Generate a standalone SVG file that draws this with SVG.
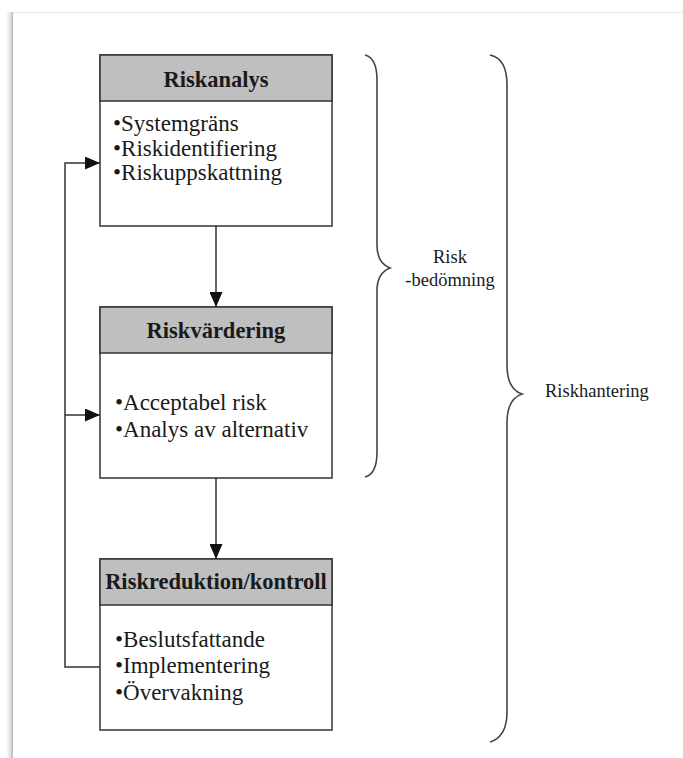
<svg xmlns="http://www.w3.org/2000/svg" width="683" height="758" viewBox="0 0 683 758">
  <style>
    .box { fill: #ffffff; stroke: #333333; stroke-width: 1.5; }
    .head { fill: #bfbfbf; stroke: #333333; stroke-width: 1.5; }
    .title { font-family: "Liberation Serif", "Times New Roman", serif; font-weight: bold; font-size: 22.5px; fill: #1a1a1a; text-anchor: middle; }
    .item { font-family: "Liberation Serif", "Times New Roman", serif; font-size: 23px; fill: #1a1a1a; }
    .label { font-family: "Liberation Serif", "Times New Roman", serif; font-size: 18.5px; fill: #1a1a1a; }
    .wire { fill: none; stroke: #333333; stroke-width: 1.5; }
    .brace { fill: none; stroke: #444444; stroke-width: 1.6; }
  </style>
  <defs>
    <marker id="arrow" viewBox="0 0 15 13" refX="15" refY="6.5" markerWidth="15" markerHeight="13" markerUnits="userSpaceOnUse" orient="auto">
      <path d="M0,0 L15,6.5 L0,13 Z" fill="#111111"/>
    </marker>
    <linearGradient id="edge" x1="0" y1="0" x2="1" y2="0">
      <stop offset="0" stop-color="#ffffff"/>
      <stop offset="0.6" stop-color="#e2e2e2"/>
      <stop offset="1" stop-color="#b8b8b8"/>
    </linearGradient>
  </defs>

  <!-- page -->
  <rect x="0" y="0" width="683" height="758" fill="#ffffff"/>
  <rect x="6" y="12" width="7" height="746" fill="url(#edge)"/>
  <line x1="13" y1="12.5" x2="683" y2="12.5" stroke="#ececec" stroke-width="1.5"/>

  <!-- connectors -->
  <g id="connectors">
    <line class="wire" x1="216" y1="226" x2="216" y2="307" marker-end="url(#arrow)"/>
    <line class="wire" x1="216" y1="478" x2="216" y2="559" marker-end="url(#arrow)"/>
    <path class="wire" d="M100,667 H65 V163 H100" marker-end="url(#arrow)"/>
    <line class="wire" x1="65" y1="415" x2="100" y2="415" marker-end="url(#arrow)"/>
  </g>

  <!-- Riskanalys -->
  <g id="riskanalys">
    <rect class="box" x="100" y="55" width="232" height="171"/>
    <rect class="head" x="100" y="55" width="232" height="46"/>
    <text class="title" x="216" y="87">Riskanalys</text>
    <text class="item" x="113" y="131">•Systemgräns</text>
    <text class="item" x="113" y="155.5">•Riskidentifiering</text>
    <text class="item" x="113" y="180">•Riskuppskattning</text>
  </g>

  <!-- Riskvärdering -->
  <g id="riskvardering">
    <rect class="box" x="100" y="307" width="232" height="171"/>
    <rect class="head" x="100" y="307" width="232" height="46"/>
    <text class="title" x="216" y="338">Riskvärdering</text>
    <text class="item" x="115" y="410">•Acceptabel risk</text>
    <text class="item" x="115" y="437">•Analys av alternativ</text>
  </g>

  <!-- Riskreduktion/kontroll -->
  <g id="riskreduktion">
    <rect class="box" x="100" y="559" width="232" height="171"/>
    <rect class="head" x="100" y="559" width="232" height="46"/>
    <text class="title" x="216" y="589">Riskreduktion/kontroll</text>
    <text class="item" x="115" y="647">•Beslutsfattande</text>
    <text class="item" x="115" y="673">•Implementering</text>
    <text class="item" x="115" y="700">•Övervakning</text>
  </g>

  <!-- Riskbedömning brace -->
  <g id="riskbedomning">
    <path class="brace" d="M365,55 C373,57 377,64 377,80 V245 C377,258 382,265 390,268 C382,271 377,278 377,291 V452 C377,468 373,475 365,477"/>
    <text class="label" x="450" y="263" text-anchor="middle">Risk</text>
    <text class="label" x="450" y="286" text-anchor="middle">-bedömning</text>
  </g>

  <!-- Riskhantering brace -->
  <g id="riskhantering">
    <path class="brace" d="M490,55 C500,57 507,66 507,85 V365 C507,382 513,391 522,394 C513,397 507,406 507,423 V712 C507,731 500,739 490,742"/>
    <text class="label" x="545" y="397">Riskhantering</text>
  </g>
</svg>
